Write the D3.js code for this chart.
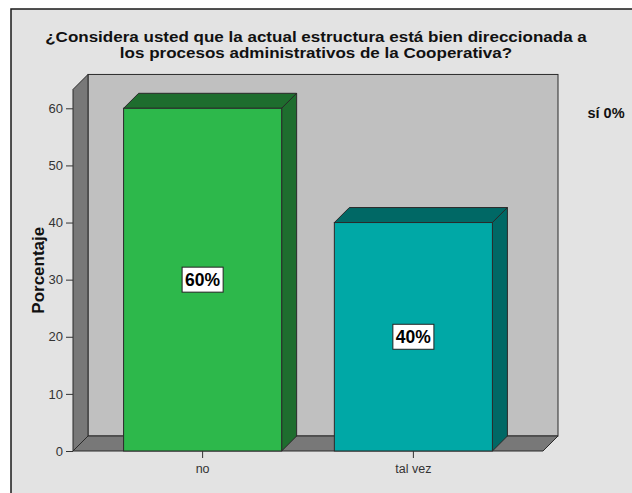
<!DOCTYPE html>
<html>
<head>
<meta charset="utf-8">
<script src="https://cdn.jsdelivr.net/npm/d3@7"></script>
<style>
  html, body { margin: 0; padding: 0; background: #ffffff; }
  svg { display: block; }
  text { font-family: Arial, "Liberation Sans", sans-serif; }
</style>
</head>
<body>
<svg id="chart" width="632" height="493"></svg>
<script>
// Survey answers shown as bars (percent of respondents)
const categories = ["no", "tal vez"];
const percentages = [60, 40];
const valueLabels = ["60%", "40%"];
// Answer with no responses, listed beside the plot
const emptyCategory = "sí";
const emptyValue = 0;
const yTicks = [0, 10, 20, 30, 40, 50, 60];
const titleLines = [
  "¿Considera usted que la actual estructura está bien direccionada a",
  "los procesos administrativos de la Cooperativa?"
];
const yAxisTitle = "Porcentaje";

const frontColors = ["#2db84b", "#00a8a6"];
const sideColors = ["#1e6d2e", "#006865"];

const svg = d3.select("#chart");
const W = 632, H = 493;

// plot geometry
const plotLeft = 73, plotRight = 543, plotBottom = 451;
const depthX = 15, depthY = 15;
const axisMax = 63.3;

const x = d3.scaleBand().domain(categories).range([plotLeft, plotRight])
  .paddingInner(0.25).paddingOuter(0.24);
const y = d3.scaleLinear().domain([0, 60]).range([plotBottom, 108.3]);

// chart panel
svg.append("rect").attr("x", 11).attr("y", 9)
  .attr("width", W + 20).attr("height", H + 20)
  .attr("fill", "#e3e3e3").attr("stroke", "#1a1a1a").attr("stroke-width", 1.5);

// title, slightly widened lettering
const title = svg.append("text").attr("text-anchor", "middle")
  .attr("transform", "translate(316,0) scale(1.15,1)")
  .attr("font-weight", "bold").attr("font-size", 14.8).attr("fill", "#111");
titleLines.forEach((t, i) => {
  title.append("tspan").attr("x", 0).attr("y", 42 + i * 16).text(t);
});

const plotTop = y(axisMax);
const edge = "#2a2a2a";
const pts = a => a.map(p => p.join(",")).join(" ");

// back wall
svg.append("rect")
  .attr("x", plotLeft + depthX).attr("y", plotTop - depthY)
  .attr("width", plotRight - plotLeft).attr("height", plotBottom - plotTop)
  .attr("fill", "#c0c0c0").attr("stroke", edge).attr("stroke-width", 1);
// left wall
svg.append("polygon")
  .attr("points", pts([[plotLeft, plotBottom], [plotLeft, plotTop], [plotLeft + depthX, plotTop - depthY], [plotLeft + depthX, plotBottom - depthY]]))
  .attr("fill", "#787878").attr("stroke", edge).attr("stroke-width", 1);
// floor
svg.append("polygon")
  .attr("points", pts([[plotLeft, plotBottom], [plotRight, plotBottom], [plotRight + depthX, plotBottom - depthY], [plotLeft + depthX, plotBottom - depthY]]))
  .attr("fill", "#787878").attr("stroke", edge).attr("stroke-width", 1);

// bars
const bars = svg.append("g").selectAll("g").data(categories).join("g");
bars.each(function (c, i) {
  const g = d3.select(this);
  const x0 = x(c), x1 = x(c) + x.bandwidth();
  const yt = y(percentages[i]);
  g.append("polygon")
    .attr("points", pts([[x0, yt], [x1, yt], [x1 + depthX, yt - depthY], [x0 + depthX, yt - depthY]]))
    .attr("fill", sideColors[i]).attr("stroke", edge).attr("stroke-width", 1);
  g.append("polygon")
    .attr("points", pts([[x1, yt], [x1 + depthX, yt - depthY], [x1 + depthX, plotBottom - depthY], [x1, plotBottom]]))
    .attr("fill", sideColors[i]).attr("stroke", edge).attr("stroke-width", 1);
  g.append("rect")
    .attr("x", x0).attr("y", yt).attr("width", x.bandwidth()).attr("height", plotBottom - yt)
    .attr("fill", frontColors[i]).attr("stroke", edge).attr("stroke-width", 1);
});

// value labels in boxes
bars.each(function (c, i) {
  const g = d3.select(this);
  const cx = x(c) + x.bandwidth() / 2;
  const cy = y(percentages[i] / 2);
  const t = g.append("text").attr("x", cx).attr("y", cy + 6.5)
    .attr("text-anchor", "middle").attr("font-size", 17.5).attr("font-weight", "bold")
    .attr("fill", "#000").text(valueLabels[i]);
  const w = t.node().getComputedTextLength();
  g.insert("rect", "text")
    .attr("x", cx - w / 2 - 3).attr("y", cy - 12.5)
    .attr("width", w + 6).attr("height", 25)
    .attr("fill", "#fff").attr("stroke", "#222").attr("stroke-width", 1);
});

// y axis
const yAxis = svg.append("g").attr("transform", `translate(${plotLeft},0)`)
  .call(d3.axisLeft(y).tickValues(yTicks).tickSize(7).tickPadding(3));
yAxis.select(".domain").remove();
yAxis.selectAll("line").attr("stroke", "#333");
yAxis.selectAll("text").attr("font-size", 13).attr("fill", "#333")
  .attr("font-family", "Arial, 'Liberation Sans', sans-serif");

// x axis
const xAxis = svg.append("g").attr("transform", `translate(0,${plotBottom})`)
  .call(d3.axisBottom(x).tickSize(7).tickPadding(6));
xAxis.select(".domain").remove();
xAxis.selectAll("line").attr("stroke", "#333");
xAxis.selectAll("text").attr("font-size", 12.5).attr("fill", "#333")
  .attr("font-family", "Arial, 'Liberation Sans', sans-serif");

// y axis title
svg.append("text")
  .attr("transform", `translate(44,${(plotBottom + plotTop) / 2}) rotate(-90)`)
  .attr("text-anchor", "middle").attr("font-weight", "bold").attr("font-size", 17)
  .attr("fill", "#111").text(yAxisTitle);

// empty category note
svg.append("text").attr("x", 606).attr("y", 118).attr("text-anchor", "middle")
  .attr("font-family", "'DejaVu Sans', sans-serif").attr("font-weight", "bold")
  .attr("font-size", 14.5).attr("fill", "#111")
  .text(`${emptyCategory} ${emptyValue}%`);
</script>
</body>
</html>
